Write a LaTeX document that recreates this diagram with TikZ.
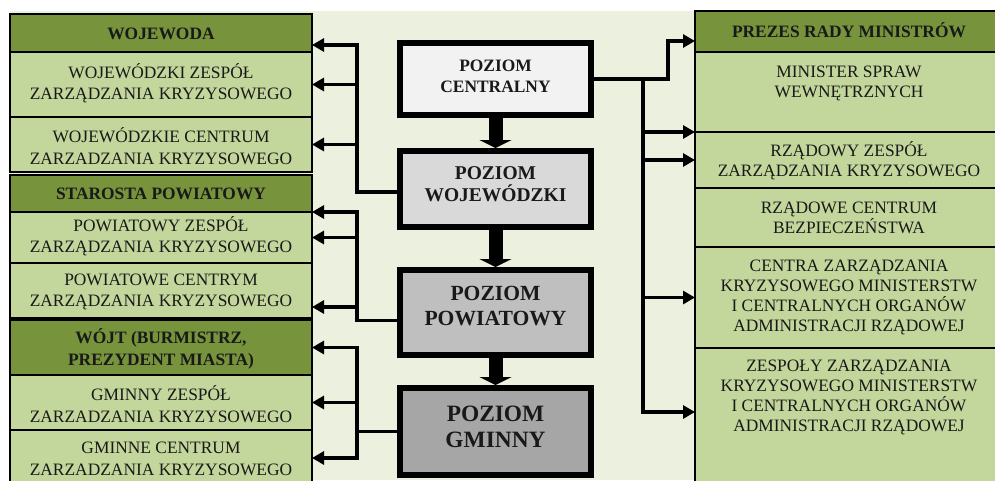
\documentclass[tikz,border=0pt]{standalone}
\usepackage{fontspec}
\setmainfont{Liberation Serif}
\usetikzlibrary{arrows.meta,calc}
\definecolor{dgreen}{HTML}{77933C}
\definecolor{lgreen}{HTML}{C3D69B}
\definecolor{bggreen}{HTML}{EBF1DE}
\definecolor{lvA}{HTML}{F2F2F2}
\definecolor{lvB}{HTML}{D9D9D9}
\definecolor{lvC}{HTML}{BFBFBF}
\definecolor{lvD}{HTML}{A6A6A6}
\begin{document}
\begin{tikzpicture}[x=1pt,y=-1pt,
  box/.style={draw=black,line width=1.2pt,inner sep=0pt,outer sep=0pt,anchor=north west},
  hdr/.style={box,fill=dgreen},
  cell/.style={box,fill=lgreen},
  txt/.style={align=center,inner sep=0pt,text=black!90,font=\fontsize{17.4}{21.5}\selectfont},
  htxt/.style={txt,font=\fontsize{17.4}{21.5}\selectfont\bfseries},
  rtxt/.style={txt,font=\fontsize{17.4}{20}\selectfont},
  lvl/.style={draw=black,line width=6pt,inner sep=0pt,minimum width=191pt},
  ltxt/.style={align=center,inner sep=0pt,text=black!90},
  conn/.style={line width=3.5pt},
  arr/.style={conn,-{Triangle[length=12pt,width=13pt]}},
  blk/.style={line width=14pt,-{Triangle[length=8pt,width=32pt]}}
]
\useasboundingbox (0,0) rectangle (995,480);
\fill[bggreen] (10,11) rectangle (995,480);

% left column
\node[hdr,minimum width=302pt,minimum height=38pt] (wojH) at (10,14) {};
\node[cell,minimum width=302pt,minimum height=65pt] (wojZ) at (10,52) {};
\node[cell,minimum width=302pt,minimum height=55pt] (wojC) at (10,117) {};
\node[hdr,minimum width=302pt,minimum height=37pt] (starH) at (10,175) {};
\node[cell,minimum width=302pt,minimum height=51pt] (powZ) at (10,212) {};
\node[cell,minimum width=302pt,minimum height=55pt] (powC) at (10,263) {};
\node[hdr,minimum width=302pt,minimum height=55pt] (wojtH) at (10,320) {};
\node[cell,minimum width=302pt,minimum height=55pt] (gZ) at (10,375) {};
\node[cell,minimum width=302pt,minimum height=60pt] (gC) at (10,430) {};

\node[htxt] (wojHt) at (161,34) {WOJEWODA};
\node[txt] (wojZt) at (161,83) {WOJEWÓDZKI ZESPÓŁ\\ZARZĄDZANIA KRYZYSOWEGO};
\node[txt] (wojCt) at (161,146) {WOJEWÓDZKIE CENTRUM\\ZARZADZANIA KRYZYSOWEGO};
\node[htxt] (starHt) at (161,194) {STAROSTA POWIATOWY};
\node[txt] (powZt) at (161,236) {POWIATOWY ZESPÓŁ\\ZARZĄDZANIA KRYZYSOWEGO};
\node[txt] (powCt) at (161,292) {POWIATOWE CENTRYM\\ZARZĄDZANIA KRYZYSOWEGO};
\node[htxt] (wojtHt) at (161,349) {WÓJT (BURMISTRZ,\\PREZYDENT MIASTA)};
\node[txt] (gZt) at (161,404) {GMINNY ZESPÓŁ\\ZARZADZANIA KRYZYSOWEGO};
\node[txt] (gCt) at (161,459) {GMINNE CENTRUM\\ZARZADZANIA KRYZYSOWEGO};

% right column
\node[hdr,minimum width=310pt,minimum height=41pt] (prez) at (695,11) {};
\node[cell,minimum width=310pt,minimum height=80pt] (min) at (695,52) {};
\node[cell,minimum width=310pt,minimum height=56pt] (rzZ) at (695,132) {};
\node[cell,minimum width=310pt,minimum height=59pt] (rzC) at (695,188) {};
\node[cell,minimum width=310pt,minimum height=101pt] (centra) at (695,247) {};
\node[cell,minimum width=310pt,minimum height=140pt] (zesp) at (695,348) {};

\node[htxt] (prezT) at (849,30) {PREZES RADY MINISTRÓW};
\node[rtxt] (minT) at (849,83) {MINISTER SPRAW\\WEWNĘTRZNYCH};
\node[rtxt] (rzZT) at (849,161) {RZĄDOWY ZESPÓŁ\\ZARZĄDZANIA KRYZYSOWEGO};
\node[rtxt] (rzCT) at (849,218) {RZĄDOWE CENTRUM\\BEZPIECZEŃSTWA};
\node[rtxt] (centraT) at (849,297) {CENTRA ZARZĄDZANIA\\KRYZYSOWEGO MINISTERSTW\\I CENTRALNYCH ORGANÓW\\ADMINISTRACJI RZĄDOWEJ};
\node[rtxt] (zespT) at (849,397) {ZESPOŁY ZARZĄDZANIA\\KRYZYSOWEGO MINISTERSTW\\I CENTRALNYCH ORGANÓW\\ADMINISTRACJI RZĄDOWEJ};

% centre levels
\node[lvl,fill=lvA,minimum height=72pt] (pc) at (495.5,79) {};
\node[lvl,fill=lvB,minimum height=76pt] (pwoj) at (495.5,189) {};
\node[lvl,fill=lvC,minimum height=85pt] (ppow) at (495.5,312.5) {};
\node[lvl,fill=lvD,minimum height=87pt] (pgmi) at (495.5,431.5) {};

\node[ltxt,font=\fontsize{17.4}{21}\selectfont\bfseries] (pcT) at (495.5,76) {POZIOM\\CENTRALNY};
\node[ltxt,font=\fontsize{19.5}{22.3}\selectfont\bfseries] (pwojT) at (495.5,184) {POZIOM\\WOJEWÓDZKI};
\node[ltxt,font=\fontsize{21.6}{25}\selectfont\bfseries] (ppowT) at (495.5,306) {POZIOM\\POWIATOWY};
\node[ltxt,font=\fontsize{23.4}{26.7}\selectfont\bfseries] (pgmiT) at (495.5,427) {POZIOM\\GMINNY};

% block arrows
\draw[blk] (pc.south) -- (pwoj.north);
\draw[blk] (pwoj.south) -- (ppow.north);
\draw[blk] (ppow.south) -- (pgmi.north);

% connection points
\coordinate (lbx) at (357,0);
\coordinate (rbx) at (643,0);
\coordinate (rkx) at (668,0);
\coordinate (pwojL) at ([yshift=-3pt]pwoj.west);
\coordinate (ppowL) at ([yshift=-8pt]ppow.west);
\coordinate (wojHa) at ([yshift=7pt]wojH.south east);
\coordinate (powCa) at ([yshift=11pt]powC.south east);
\coordinate (gCa) at ([yshift=-28pt]gC.north east);
\coordinate (preza) at ([yshift=11pt]prez.south west);
\coordinate (zespa) at ([yshift=-64pt]zesp.north west);

% left connectors
\draw[arr] (pwojL) -- (pwojL -| lbx) |- (wojHa);
\draw[arr] (lbx |- wojZ.east) -- (wojZ.east);
\draw[arr] (lbx |- wojC.east) -- (wojC.east);

\draw[arr] (ppowL) -- (ppowL -| lbx) |- (starH.south east);
\draw[arr] (lbx |- powZ.east) -- (powZ.east);
\draw[arr] (lbx |- powCa) -- (powCa);

\draw[arr] (pgmi.west) -- (pgmi.west -| lbx) |- (wojtH.east);
\draw[arr] (lbx |- gZ.east) -- (gZ.east);
\draw[arr] (lbx |- pgmi.west) |- (gCa);

% right connectors
\draw[arr] (pc.east) -- (pc.east -| rkx) |- (preza);
\draw[arr] (pc.east -| rbx) |- (zespa);
\draw[arr] (rbx |- min.south west) -- (min.south west);
\draw[arr] (rbx |- rzZ.west) -- (rzZ.west);
\draw[arr] (rbx |- centra.west) -- (centra.west);
\end{tikzpicture}
\end{document}
